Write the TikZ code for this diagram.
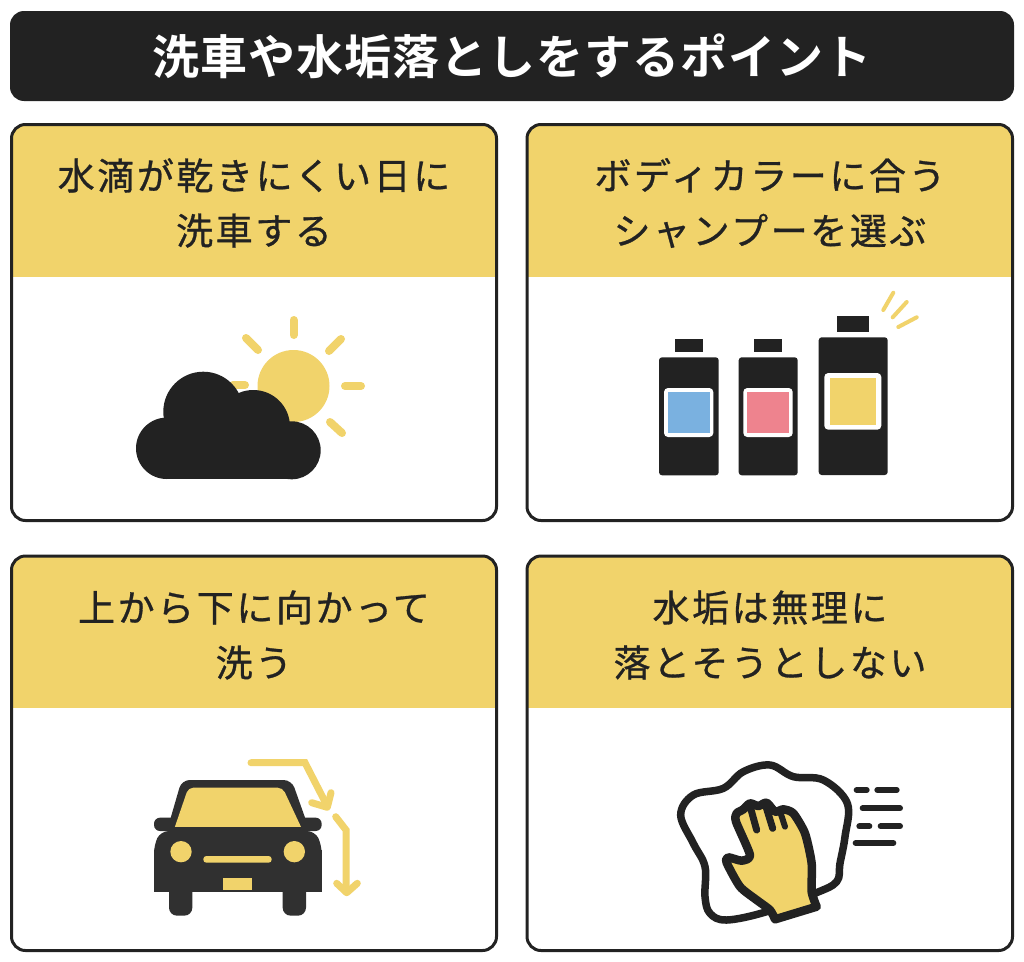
\documentclass[tikz,border=0pt]{standalone}
\usepackage{fontspec}
\usepackage{tikz}
\newfontfamily\jpfont[LetterSpace=7,FakeBold=0.8]{Noto Sans CJK JP}
\newfontfamily\jpbold[BoldFont={Noto Sans CJK JP Bold},LetterSpace=2]{Noto Sans CJK JP}
\definecolor{ink}{HTML}{222222}
\definecolor{carink}{HTML}{303030}
\definecolor{gold}{HTML}{F1D36B}
\definecolor{skyblue}{HTML}{7AB1E0}
\definecolor{rosepink}{HTML}{EE838E}
\tikzset{
  headtext/.style={align=center,text=ink,inner sep=0pt,font=\jpfont\fontsize{37}{55}\selectfont},
  ray/.style={gold,line width=8pt,line cap=round},
  flick/.style={gold,line width=4pt,line cap=round},
  swoosh/.style={gold,line width=7pt,line cap=round},
  speed/.style={ink,line width=6pt,line cap=round},
}
% left top right bottom headerbottom
\newcommand{\cardbox}[5]{
  \begin{scope}
  \clip[rounded corners=14] (#1,#2) rectangle (#3,#4);
  \fill[gold] (#1,#2) rectangle (#3,#5);
  \end{scope}
  \draw[ink,line width=3pt,rounded corners=14] (#1,#2) rectangle (#3,#4);
}
\begin{document}
\begin{tikzpicture}[x=1pt,y=-1pt]
\useasboundingbox (0,0) rectangle (1024,961);
\fill[white] (0,0) rectangle (1024,961);
\fill[ink,rounded corners=14] (10,11) rectangle (1014,101);
\node[text=white,inner sep=0pt,font=\jpbold\bfseries\fontsize{47}{50}\selectfont] (title) at (512,56) {洗車や水垢落としをするポイント};

\cardbox{11.5}{124.5}{496.5}{520.5}{277}
\cardbox{527}{124.5}{1012.5}{520.5}{277}
\cardbox{11.5}{556}{496.5}{950.5}{708}
\cardbox{527}{556}{1012.5}{950.5}{708}

\node[headtext] (dry) at (254,203) {水滴が乾きにくい日に\\洗車する};
\node[headtext] (shampoo) at (770,203) {ボディカラーに合う\\シャンプーを選ぶ};
\node[headtext] (wash) at (254,635) {上から下に向かって\\洗う};
\node[headtext] (scale) at (770,635) {水垢は無理に\\落とそうとしない};

% sun and cloud
\fill[gold] (293.5,386) circle (36);
\draw[ray] (293.5,320) -- (293.5,335);
\draw[ray] (329,351) -- (341,339);
\draw[ray] (345,386) -- (361,386);
\draw[ray] (330,422) -- (342,433);
\draw[ray] (246,338) -- (258,350);
\draw[ray] (233,385) -- (245,385);
\fill[ink] (166.7,448.3) circle (30.7);
\fill[ink] (203.3,411.7) circle (40);
\fill[ink] (253.3,426.7) circle (36.7);
\fill[ink] (291.7,450.3) circle (29);
\fill[ink] (166.7,425) rectangle (291.7,479);

% bottles
\fill[ink] (674.7,338.7) rectangle (702.7,352.3);
\fill[ink] (754,338.7) rectangle (782.3,352.3);
\fill[ink] (836.7,316) rectangle (869.3,331.7);
\fill[ink,rounded corners=3] (659,357.3) rectangle (718.7,475.3);
\fill[ink,rounded corners=3] (738.7,357.3) rectangle (797.7,475.3);
\fill[ink,rounded corners=3] (818.7,337.3) rectangle (887.7,475);
\fill[white,rounded corners=4] (664,388) rectangle (713.3,437);
\fill[white,rounded corners=4] (743.3,388) rectangle (792.7,437);
\fill[white,rounded corners=4] (824.3,373) rectangle (881.3,429.7);
\fill[skyblue] (668,391.7) rectangle (710.3,432.7);
\fill[rosepink] (747.3,391.7) rectangle (789.3,432.7);
\fill[gold] (829.7,377.7) rectangle (876.3,425);
\draw[flick] (883.3,310) -- (893.3,292.7);
\draw[flick] (892.7,317.3) -- (906.7,302);
\draw[flick] (898.3,327) -- (916.7,317.3);

% car
\begin{scope}[shift={(140,750)},x=1/3*1pt,y=-1/3*1pt]
\fill[carink,rounded corners=8] (87,400) rectangle (157,497);
\fill[carink,rounded corners=8] (428,400) rectangle (498,497);
\fill[carink,rounded corners=8] (42,340) -- (42,285) -- (62,243) -- (525,243) -- (545,285) -- (545,340) -- cycle;
\fill[carink] (42,300) rectangle (545,427);
\fill[carink,rounded corners=6] (42,203) rectangle (545,243);
\fill[carink,rounded corners=8] (80,245) -- (125,90) -- (455,90) -- (510,245) -- cycle;
\begin{scope}
\clip (90,113) rectangle (500,230);
\fill[gold,rounded corners=5] (98,250) -- (145,113) -- (428,113) -- (492,250) -- cycle;
\end{scope}
\fill[gold] (123,305) circle (32);
\fill[gold] (463,305) circle (32);
\fill[gold,rounded corners=3] (190,318) rectangle (395,338);
\fill[gold] (250,385) rectangle (335,420);
\end{scope}
\draw[swoosh] (251,762.7) -- (305,762.7) -- (326.7,805);
\draw[swoosh,line join=round] (311.7,802.7) -- (327.3,807.3) -- (331,792.7);
\draw[swoosh] (335.7,816.7) -- (346,830) -- (346,891.7);
\draw[swoosh,line join=round] (336.7,883.3) -- (346.7,892.7) -- (357.3,883.3);

% cloth and hand
\begin{scope}[shift={(660,750)},x=1/3*1pt,y=-1/3*1pt]
\draw[ink,line width=7.5pt] plot[smooth cycle,tension=0.6] coordinates {(62,195) (100,135) (190,115) (250,65) (330,45) (400,80) (490,90) (562,160) (555,260) (540,340) (530,395) (465,430) (320,485) (200,510) (150,490) (135,440) (135,350) (100,280)};
\draw[ink,fill=gold,line width=8.5pt,line join=round] plot[smooth,tension=0.4] coordinates {(470,470) (455,425) (455,340) (435,250) (400,190) (370,178) (345,185) (320,158) (295,168) (270,160) (250,178) (230,190) (228,215) (270,315) (245,332) (205,322) (200,338) (240,410) (290,450) (330,480) (345,508)} -- cycle;
\draw[ink,line width=7pt,line cap=round] (272,175) -- (290,240);
\draw[ink,line width=7pt,line cap=round] (318,170) -- (338,235);
\draw[ink,line width=6pt,line cap=round] (362,190) -- (375,230);
\draw[speed] (590,120) -- (620,120) (652,120) -- (710,120);
\draw[speed] (608,175) -- (720,175);
\draw[speed] (598,229) -- (628,229) (662,229) -- (720,229);
\draw[speed] (587,279) -- (700,279);
\end{scope}
\end{tikzpicture}
\end{document}
